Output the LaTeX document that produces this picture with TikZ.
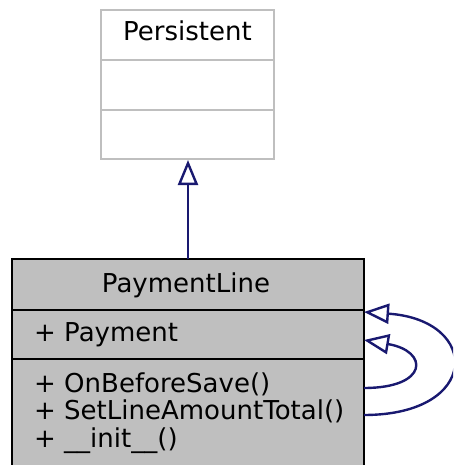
\documentclass[tikz,border=0pt]{standalone}
\usepackage{fontspec}
\setmainfont{DejaVu Sans}
\usetikzlibrary{arrows.meta}
\definecolor{edgeblue}{HTML}{191970}
\definecolor{boxgray}{HTML}{BFBFBF}
\tikzset{
  umltext/.style={inner sep=0pt, font=\fontsize{26}{27.5}\selectfont},
  inherit/.style={draw=edgeblue, line width=2.4pt, -{Triangle[open, length=25pt, width=20pt, line width=2.4pt]}},
  lightbox/.style={draw=boxgray, line width=2.4pt, fill=white},
  darkbox/.style={draw=black, line width=2.4pt, fill=boxgray}
}
\begin{document}
\begin{tikzpicture}[x=1pt,y=-1pt]
\useasboundingbox (0,0) rectangle (453,465);
\clip (0,0) rectangle (453,465);
% Persistent
\draw[lightbox] (101,10) rectangle (274,159);
\draw[draw=boxgray, line width=2.4pt] (101,60) -- (274,60);
\draw[draw=boxgray, line width=2.4pt] (101,110) -- (274,110);
\node[umltext, anchor=base] (pers) at (187.5,41) {Persistent};
\coordinate (persbot) at (188,160);
% PaymentLine
\draw[darkbox] (12,259) rectangle (364,480);
\draw[line width=2.4pt] (12,310) -- (364,310);
\draw[line width=2.4pt] (12,359) -- (364,359);
\node[umltext, anchor=base] (pl) at (186,292) {PaymentLine};
\node[umltext, anchor=base west] (attr) at (34,341) {+ Payment};
\node[umltext, anchor=base west] (m1) at (34,392) {+ OnBeforeSave()};
\node[umltext, anchor=base west] (m2) at (34,419.5) {+ SetLineAmountTotal()};
\node[umltext, anchor=base west] (m3) at (34,447) {+ \_\_init\_\_()};
\coordinate (pltop) at (188,259);
\coordinate (o1) at (364,415);
\coordinate (o2) at (364,312);
\coordinate (i1) at (364,388);
\coordinate (i2) at (364,340);
% edges
\draw[inherit] (pltop) -- (persbot);
\draw[inherit] (o1) .. controls (481,415) and (481,320) .. (o2);
\draw[inherit] (i1) .. controls (429,388) and (429,351) .. (i2);
\end{tikzpicture}
\end{document}
